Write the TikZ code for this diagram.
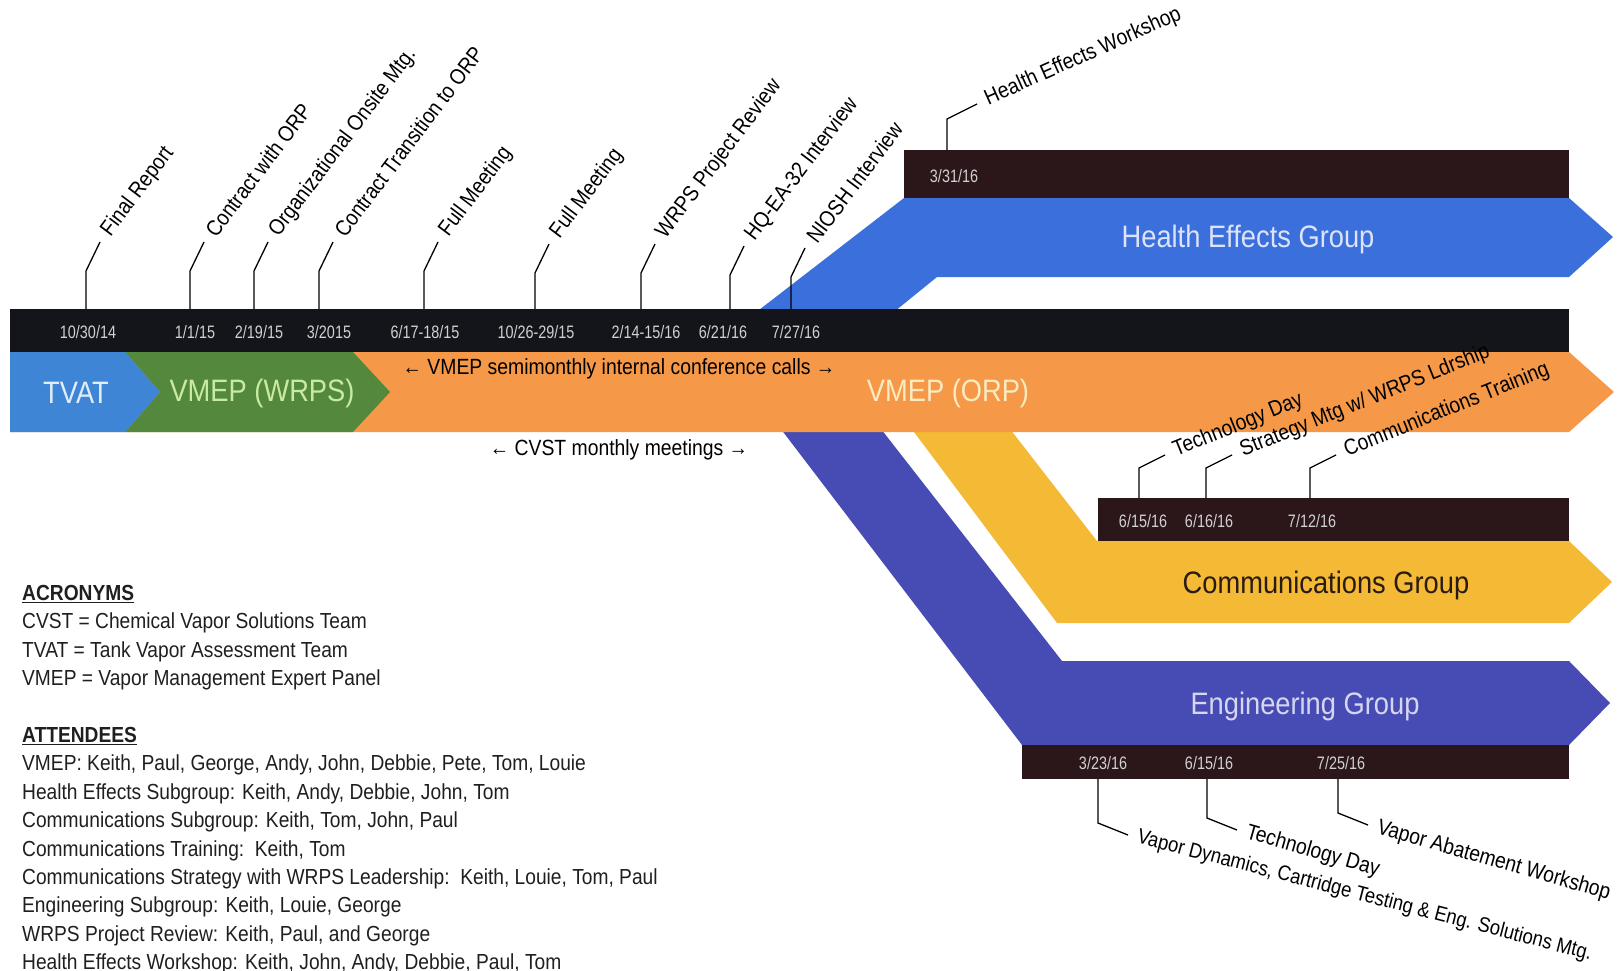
\documentclass[tikz,border=0pt]{standalone}
\usepackage{fontspec}
\usepackage{xcolor}
\usepackage{tikz}
\setmainfont{Liberation Sans}
\newfontfamily\labelfont[FakeStretch=0.88]{Liberation Sans}
\newfontfamily\datefont[FakeStretch=0.8]{Liberation Sans}

\definecolor{barblack}{HTML}{14151B}
\definecolor{grpbar}{HTML}{2B161A}
\definecolor{tvatblue}{HTML}{3F85D6}
\definecolor{wrpsgreen}{HTML}{53883D}
\definecolor{orporange}{HTML}{F59848}
\definecolor{healthblue}{HTML}{3A6FDC}
\definecolor{commyellow}{HTML}{F4BA35}
\definecolor{engblue}{HTML}{474CB4}
\definecolor{tvattext}{HTML}{E2EDFA}
\definecolor{wrpstext}{HTML}{C9EBA0}
\definecolor{orptext}{HTML}{FCEBC0}
\definecolor{healthtext}{HTML}{DCE3FA}
\definecolor{engtext}{HTML}{D6D6F0}
\definecolor{commtext}{HTML}{2A1B12}

\begin{document}
\begin{tikzpicture}[x=1pt, y=-1pt,
    leader/.style={line width=1.3pt, black},
    ticklabel/.style={font=\labelfont\fontsize{22}{24}\selectfont, inner sep=1pt, outer sep=9pt, anchor=west},
    datelabel/.style={font=\datefont\fontsize{18}{20}\selectfont, text=black!18, inner sep=0pt},
    bandlabel/.style={font=\labelfont\fontsize{31}{34}\selectfont, inner sep=0pt},
    legend/.style={font=\labelfont\fontsize{21.8}{28.4}\selectfont, align=left, anchor=north west, inner sep=0pt, text=black!88}]

    \useasboundingbox (0,0) rectangle (1624,971);

    % Health effects branch
    \fill[healthblue] (746,320) -- (904,198) -- (1569,198) -- (1613,237) -- (1569,277) -- (937,277) -- (884,320) -- cycle;
    \fill[grpbar] (904,150) rectangle (1569,198);

    % Engineering and communications branches
    \fill[engblue] (774,420) -- (874,420) -- (1062,661) -- (1569,661) -- (1610,703) -- (1569,745) -- (1022,745) -- cycle;
    \fill[commyellow] (905,420) -- (1003,420) -- (1097,541) -- (1569,541) -- (1612,582) -- (1569,623) -- (1057,623) -- cycle;
    \fill[grpbar] (1098,498) rectangle (1569,541);
    \fill[grpbar] (1022,745) rectangle (1569,779);

    % Main band
    \fill[orporange] (10,352) -- (1569,352) -- (1614,392) -- (1569,432) -- (10,432) -- cycle;
    \fill[wrpsgreen] (125,352) -- (353,352) -- (390,392) -- (353,432) -- (125,432) -- (160,392) -- cycle;
    \fill[tvatblue] (10,352) -- (125,352) -- (160,392) -- (125,432) -- (10,432) -- cycle;
    \fill[barblack] (10,309) rectangle (1569,352);

    \node[bandlabel, text=tvattext] (tvat) at (76,393) {TVAT};
    \node[bandlabel, text=wrpstext] (wrps) at (262,393) {VMEP (WRPS)};
    \node[bandlabel, text=orptext] (orp) at (948,393) {VMEP (ORP)};
    \node[bandlabel, text=healthtext] (health) at (1248,239) {Health Effects Group};
    \node[bandlabel, text=commtext] (comm) at (1326,585) {Communications Group};
    \node[bandlabel, text=engtext] (eng) at (1305,706) {Engineering Group};

    \node[font=\labelfont\fontsize{22}{24}\selectfont, inner sep=0pt] (calls) at (619,369) {← VMEP semimonthly internal conference calls →};
    \node[font=\labelfont\fontsize{22}{24}\selectfont, inner sep=0pt] (cvst) at (619,450) {← CVST monthly meetings →};

    % Dates on the bars
    \foreach \x/\d [count=\i] in {88/{10/30/14}, 195/{1/1/15}, 259/{2/19/15}, 329/{3/2015}, 425/{6/17-18/15}, 536/{10/26-29/15}, 646/{2/14-15/16}, 723/{6/21/16}, 796/{7/27/16}}
      \node[datelabel] (mdate\i) at (\x,332) {\d};
    \node[datelabel] (hdate1) at (954,176) {3/31/16};
    \foreach \x/\d [count=\i] in {1143/{6/15/16}, 1209/{6/16/16}, 1312/{7/12/16}}
      \node[datelabel] (cdate\i) at (\x,521) {\d};
    \foreach \x/\d [count=\i] in {1103/{3/23/16}, 1209/{6/15/16}, 1341/{7/25/16}}
      \node[datelabel] (edate\i) at (\x,763) {\d};

    % Events
    \foreach \x/\h/\txt [count=\i] in {86/38/Final Report, 190/38/Contract with ORP, 254/38/Organizational Onsite Mtg., 319/38/Contract Transition to ORP, 424/38/Full Meeting, 535/36/Full Meeting, 641/36/WRPS Project Review, 730/34/HQ-EA-32 Interview, 791/32/NIOSH Interview}
      \draw[leader] (\x,309) -- ++(0,-\h) -- ++(14,-29) node[ticklabel, rotate=53] (event\i) {\txt};
    \draw[leader] (947,150) -- ++(0,-31) -- ++(30,-15) node[ticklabel, rotate=24] (workshop) {Health Effects Workshop};
    \foreach \x/\txt [count=\i] in {1139/Technology Day, 1206/{Strategy Mtg w/ WRPS Ldrship}, 1310/Communications Training}
      \draw[leader] (\x,498) -- ++(0,-30) -- ++(26,-13) node[ticklabel, rotate=22] (cevent\i) {\txt};
    \foreach \x/\h/\r/\txt [count=\i] in {1098/44/-14.5/{\fontsize{21}{23}\selectfont Vapor Dynamics, Cartridge Testing \& Eng. Solutions Mtg.}, 1207/39/-16/Technology Day, 1338/34/-16/Vapor Abatement Workshop}
      \draw[leader] (\x,779) -- ++(0,\h) -- ++(30,12) node[ticklabel, rotate=\r] (eevent\i) {\txt};

    % Legend
    \node[legend] (acronyms) at (22,585) {\underline{\textbf{ACRONYMS}}\\
      CVST = Chemical Vapor Solutions Team\\
      TVAT = Tank Vapor Assessment Team\\
      VMEP = Vapor Management Expert Panel};
    \node[legend] (attendees) at (22,727) {\underline{\textbf{ATTENDEES}}\\
      VMEP: Keith, Paul, George, Andy, John, Debbie, Pete, Tom, Louie\\
      Health Effects Subgroup: Keith, Andy, Debbie, John, Tom\\
      Communications Subgroup: Keith, Tom, John, Paul\\
      Communications Training:\ \ Keith, Tom\\
      Communications Strategy with WRPS Leadership:\ \ Keith, Louie, Tom, Paul\\
      Engineering Subgroup: Keith, Louie, George\\
      WRPS Project Review: Keith, Paul, and George\\
      Health Effects Workshop: Keith, John, Andy, Debbie, Paul, Tom};
\end{tikzpicture}
\end{document}
